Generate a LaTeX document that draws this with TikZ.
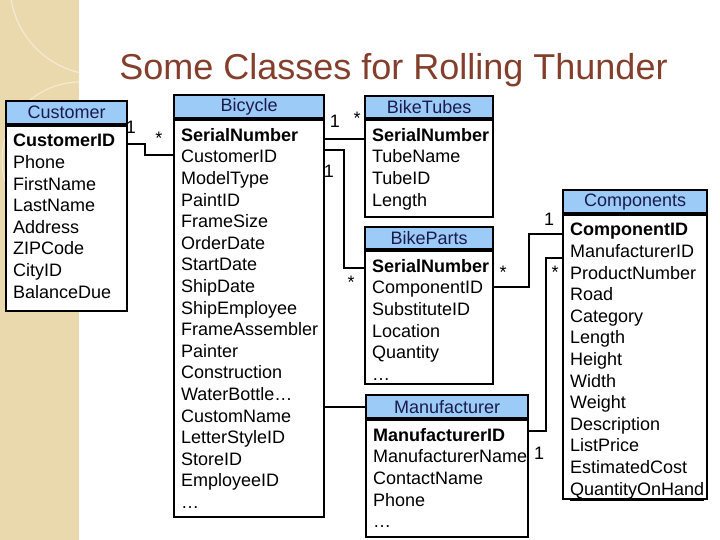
\documentclass[tikz,border=0pt]{standalone}
\usepackage{fontspec}
\setmainfont{Liberation Sans}
\usepackage{tikz}
\usetikzlibrary{positioning}
\definecolor{strip}{HTML}{EBD9AE}
\definecolor{head}{HTML}{9DCBF7}
\definecolor{headtext}{HTML}{1B1B4B}
\definecolor{title}{HTML}{843E2C}

\tikzset{
  classhead/.style={draw=black,line width=2.2pt,fill=head,text=headtext,anchor=north west,
    inner sep=0pt,minimum height=23pt,font=\fontsize{18}{21.6}\selectfont},
  classbody/.style={draw=black,line width=2.2pt,fill=white,anchor=north west,
    inner xsep=7pt,inner ysep=8pt,font=\fontsize{18}{21.6}\selectfont},
  link/.style={black,line width=2pt},
  mult/.style={anchor=base,inner sep=0pt,font=\fontsize{18}{21.6}\selectfont},
}
\newcommand{\fieldbox}[3]{\parbox[t][#2pt][t]{#1pt}{\raggedright#3}}

\begin{document}
\begin{tikzpicture}[x=1pt,y=-1pt]
  \useasboundingbox (0,0) rectangle (720,540);
  % slide background
  \fill[strip] (0,0) rectangle (79,540);
  \begin{scope}
    \clip (0,0) rectangle (79,540);
    \draw[white,opacity=.45,line width=1.2pt] (100,-15) circle (90);
    \draw[white,opacity=.45,line width=1.2pt] (80,160) circle (78);
  \end{scope}

  \node[anchor=base,text=title,font=\fontsize{36}{40}\selectfont] (title) at (393.5,80) {Some Classes for Rolling Thunder};

  % classes
  \node[classhead,minimum width=121pt] (cust-h) at (5,100) {Customer};
  \node[classbody,minimum width=121pt] (cust) at (cust-h.south west)
    {\fieldbox{107}{169}{\textbf{CustomerID}\\Phone\\FirstName\\LastName\\Address\\ZIPCode\\CityID\\BalanceDue}};

  \node[classhead,minimum width=150pt] (bike-h) at (173,94) {Bicycle};
  \node[classbody,minimum width=150pt] (bike) at (bike-h.south west)
    {\fieldbox{136}{381}{\textbf{SerialNumber}\\CustomerID\\ModelType\\PaintID\\FrameSize\\OrderDate\\StartDate\\ShipDate\\ShipEmployee\\FrameAssembler\\Painter\\Construction\\WaterBottle…\\CustomName\\LetterStyleID\\StoreID\\EmployeeID\\…}};

  \node[classhead,minimum width=128pt,minimum height=22pt] (tubes-h) at (364,95) {BikeTubes};
  \node[classbody,minimum width=128pt] (tubes) at (tubes-h.south west)
    {\fieldbox{114}{81}{\textbf{SerialNumber}\\TubeName\\TubeID\\Length}};

  \node[classhead,minimum width=128pt,minimum height=22pt] (parts-h) at (364,226) {BikeParts};
  \node[classbody,minimum width=128pt] (parts) at (parts-h.south west)
    {\fieldbox{114}{117}{\textbf{SerialNumber}\\ComponentID\\SubstituteID\\Location\\Quantity\\…}};

  \node[classhead,minimum width=162pt] (mfr-h) at (365,394) {Manufacturer};
  \node[classbody,minimum width=162pt] (mfr) at (mfr-h.south west)
    {\fieldbox{148}{101}{\textbf{ManufacturerID}\\ManufacturerName\\ContactName\\Phone\\…}};

  \node[classhead,minimum width=144pt] (comp-h) at (562,189) {Components};
  \node[classbody,minimum width=144pt] (comp) at (comp-h.south west)
    {\fieldbox{130}{268}{\textbf{ComponentID}\\ManufacturerID\\ProductNumber\\Road\\Category\\Length\\Height\\Width\\Weight\\Description\\ListPrice\\EstimatedCost\\\underline{QuantityOnHand}}};

  % associations
  \draw[link] ([yshift=-19pt]cust.north east) -- ++(17,0) |- ([yshift=-36pt]bike.north west);
  \draw[link] ([yshift=-20pt]bike.north east) -- ([yshift=-20pt]tubes.north west);
  \draw[link] ([yshift=-31pt]bike.north east) -- ++(19,0) |- ([yshift=-18pt]parts.north west);
  \draw[link] (mfr-h.west) -- (bike.east |- mfr-h.west);
  \draw[link] ([yshift=-37pt]parts.north east) -- ++(35,0) |- ([yshift=-20pt]comp.north west);
  \draw[link] ([yshift=-12pt]mfr.north east) -- ++(17,0) |- ([yshift=-44pt]comp.north west);

  % multiplicities
  \node[mult] (m-cust) at (131,133.5) {1};
  \node[mult] (m-bike1) at (159,145) {*};
  \node[mult] (m-bike2) at (335,127.5) {1};
  \node[mult] (m-tubes) at (357,125) {*};
  \node[mult] (m-bike3) at (329,177.5) {1};
  \node[mult] (m-parts1) at (351,288) {*};
  \node[mult] (m-parts2) at (503,278) {*};
  \node[mult] (m-comp1) at (549,225.5) {1};
  \node[mult] (m-comp2) at (555,278) {*};
  \node[mult] (m-mfr) at (539,459.5) {1};
\end{tikzpicture}
\end{document}
